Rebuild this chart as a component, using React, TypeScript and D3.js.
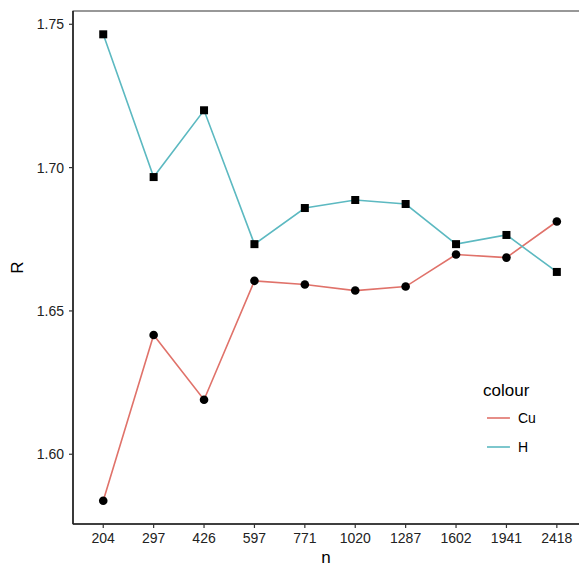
import React, { useRef, useEffect } from 'react';
import * as d3 from 'd3';

const nLabels = ['204', '297', '426', '597', '771', '1020', '1287', '1602', '1941', '2418'];
const cuValues = [1.5838, 1.6416, 1.619, 1.6605, 1.6592, 1.6571, 1.6585, 1.6697, 1.6686, 1.6812];
const hValues = [1.7465, 1.6967, 1.72, 1.6733, 1.6859, 1.6887, 1.6873, 1.6733, 1.6765, 1.6636];
const yTicks = [1.6, 1.65, 1.7, 1.75];
const seriesNames = ['Cu', 'H'];
const seriesColors = ['#e0726a', '#5cb9c1'];

const W = 579;
const H = 566;

const App = () => {
  const svgRef = useRef<SVGSVGElement | null>(null);

  useEffect(() => {
    const svg = d3.select(svgRef.current);
    svg.selectAll('*').remove();

    const left = 73;
    const top = 11;
    const bottom = 524;
    const step = 50.4;
    const right = left + step * (nLabels.length + 0.2); // panel runs past the window edge

    // discrete x axis with ggplot-style 0.6 expansion on each side
    const x = d3.scalePoint<string>()
      .domain(nLabels)
      .range([left + 0.6 * step, right - 0.6 * step]);

    const all = cuValues.concat(hValues);
    const lo = d3.min(all) as number;
    const hi = d3.max(all) as number;
    const pad = (hi - lo) * 0.05;
    const y = d3.scaleLinear().domain([lo - pad, hi + pad]).range([bottom, top]);

    const font = 'Liberation Sans, Arial, Helvetica, sans-serif';

    // panel border
    svg.append('rect')
      .attr('x', left).attr('y', top)
      .attr('width', right - left).attr('height', bottom - top)
      .attr('fill', 'white').attr('stroke', '#333').attr('stroke-width', 1);

    const series = [cuValues, hValues];
    const line = d3.line<number>()
      .x((_, i) => x(nLabels[i]) as number)
      .y(d => y(d));

    series.forEach((vals, k) => {
      svg.append('path')
        .datum(vals)
        .attr('d', line)
        .attr('fill', 'none')
        .attr('stroke', seriesColors[k])
        .attr('stroke-width', 1.6);
    });

    // Cu: circles
    svg.selectAll('.cu-pt')
      .data(cuValues)
      .enter().append('circle')
      .attr('class', 'cu-pt')
      .attr('cx', (_, i) => x(nLabels[i]) as number)
      .attr('cy', d => y(d))
      .attr('r', 4.3)
      .attr('fill', 'black');

    // H: squares
    svg.selectAll('.h-pt')
      .data(hValues)
      .enter().append('rect')
      .attr('class', 'h-pt')
      .attr('x', (_, i) => (x(nLabels[i]) as number) - 4)
      .attr('y', d => y(d) - 4)
      .attr('width', 8)
      .attr('height', 8)
      .attr('fill', 'black');

    // axes lines
    svg.append('line')
      .attr('x1', left).attr('x2', left).attr('y1', top).attr('y2', bottom)
      .attr('stroke', '#222').attr('stroke-width', 1.6);
    svg.append('line')
      .attr('x1', left).attr('x2', W).attr('y1', bottom).attr('y2', bottom)
      .attr('stroke', '#222').attr('stroke-width', 1.6);

    // y ticks
    yTicks.forEach(t => {
      svg.append('line')
        .attr('x1', left - 4).attr('x2', left).attr('y1', y(t)).attr('y2', y(t))
        .attr('stroke', '#333').attr('stroke-width', 1.2);
      svg.append('text')
        .attr('x', left - 9).attr('y', y(t))
        .attr('dy', '0.35em')
        .attr('text-anchor', 'end')
        .style('font-family', font)
        .style('font-size', '14px')
        .attr('fill', '#222')
        .text(t.toFixed(2));
    });

    // x ticks
    nLabels.forEach(n => {
      const px = x(n) as number;
      svg.append('line')
        .attr('x1', px).attr('x2', px).attr('y1', bottom).attr('y2', bottom + 4)
        .attr('stroke', '#333').attr('stroke-width', 1.2);
      svg.append('text')
        .attr('x', px).attr('y', bottom + 19)
        .attr('text-anchor', 'middle')
        .style('font-family', font)
        .style('font-size', '14px')
        .attr('fill', '#222')
        .text(n);
    });

    // axis titles
    svg.append('text')
      .attr('x', 326).attr('y', 563)
      .attr('text-anchor', 'middle')
      .style('font-family', font)
      .style('font-size', '17px')
      .text('n');
    svg.append('text')
      .attr('transform', `translate(23,${(top + bottom) / 2}) rotate(-90)`)
      .attr('text-anchor', 'middle')
      .style('font-family', font)
      .style('font-size', '17px')
      .text('R');

    // legend
    const lg = svg.append('g').attr('transform', 'translate(483,0)');
    lg.append('text')
      .attr('x', 0).attr('y', 396)
      .style('font-family', font)
      .style('font-size', '17px')
      .text('colour');
    seriesNames.forEach((name, i) => {
      const ly = 418 + i * 29;
      lg.append('line')
        .attr('x1', 4).attr('x2', 27).attr('y1', ly).attr('y2', ly)
        .attr('stroke', seriesColors[i]).attr('stroke-width', 1.6);
      lg.append('text')
        .attr('x', 35).attr('y', ly)
        .attr('dy', '0.35em')
        .style('font-family', font)
        .style('font-size', '14px')
        .text(name);
    });
  }, []);

  return (
    <div style={{ position: 'fixed', left: 0, top: 0, width: W, height: H, background: 'white' }}>
      <svg ref={svgRef} width={W} height={H} style={{ display: 'block', overflow: 'hidden' }}></svg>
    </div>
  );
};

export default App;
